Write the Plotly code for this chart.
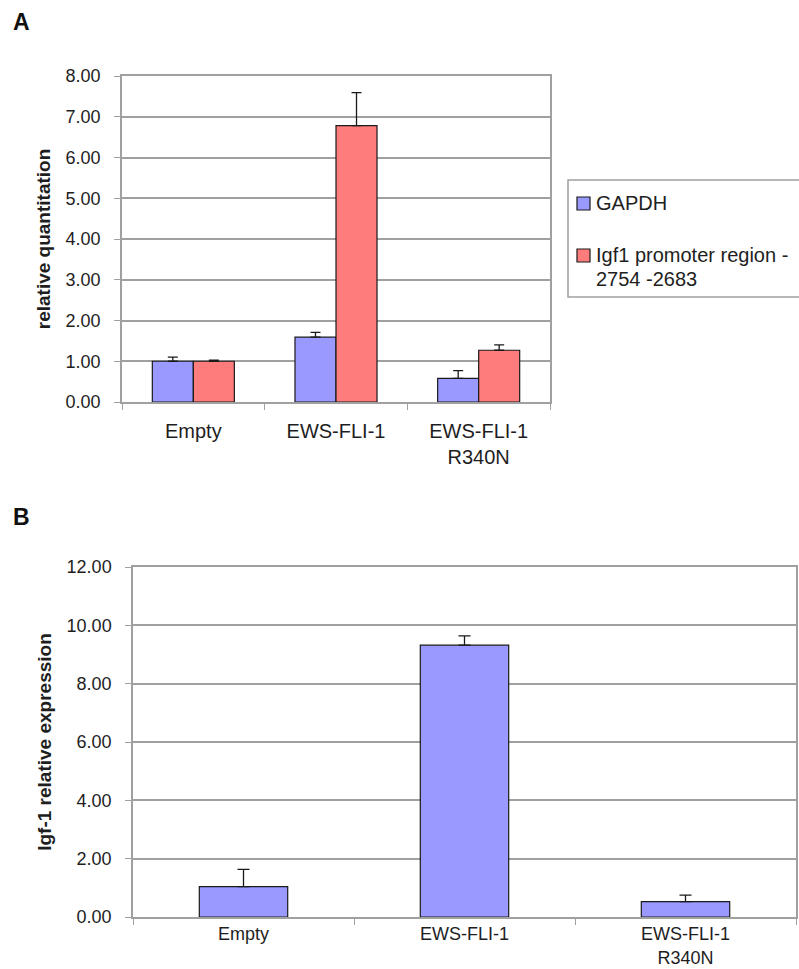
import plotly.graph_objects as go

W, H = 799, 969

categories = ["Empty", "EWS-FLI-1", "EWS-FLI-1<br>R340N"]

# Panel A
series_a_names = ["GAPDH", "Igf1 promoter region -", "2754 -2683"]
gapdh_vals = [1.00, 1.59, 0.58]
gapdh_err = [0.10, 0.12, 0.19]
igf1_vals = [1.00, 6.78, 1.27]
igf1_err = [0.03, 0.81, 0.13]
a_ticks = [0, 1, 2, 3, 4, 5, 6, 7, 8]
a_ticklabels = ["0.00", "1.00", "2.00", "3.00", "4.00", "5.00", "6.00", "7.00", "8.00"]

# Panel B
igf_expr_vals = [1.04, 9.32, 0.53]
igf_expr_err = [0.59, 0.32, 0.22]
b_ticks = [0, 2, 4, 6, 8, 10, 12]
b_ticklabels = ["0.00", "2.00", "4.00", "6.00", "8.00", "10.00", "12.00"]

BLUE = "#9999FF"
RED = "#FF7C7C"
GRID = "#A0A0A0"
TXT = "#1e1e1e"
FONT = "Arial, Liberation Sans, sans-serif"


def px_x(p):
    return p / W


def px_y(p):
    return 1 - p / H


fig = go.Figure()

err_style = dict(color="#1a1a1a", thickness=1.3, width=5)

fig.add_trace(go.Bar(
    x=categories, y=gapdh_vals, name="GAPDH", showlegend=False,
    marker=dict(color=BLUE, line=dict(color="#1a1a1a", width=1.2)),
    error_y=dict(type="data", array=gapdh_err, symmetric=False,
                 arrayminus=[0, 0, 0], **err_style),
    xaxis="x", yaxis="y",
))
fig.add_trace(go.Bar(
    x=categories, y=igf1_vals, name="Igf1 promoter region -2754 -2683", showlegend=False,
    marker=dict(color=RED, line=dict(color="#1a1a1a", width=1.2)),
    error_y=dict(type="data", array=igf1_err, symmetric=False,
                 arrayminus=[0, 0, 0], **err_style),
    xaxis="x", yaxis="y",
))
fig.add_trace(go.Bar(
    x=categories, y=igf_expr_vals, name="Igf-1", showlegend=False,
    marker=dict(color=BLUE, line=dict(color="#1a1a1a", width=1.2)),
    error_y=dict(type="data", array=igf_expr_err, symmetric=False,
                 arrayminus=[0, 0, 0], color="#1a1a1a", thickness=1.3, width=6),
    xaxis="x2", yaxis="y2", width=0.4,
))

ytick_font = dict(family=FONT, size=18, color=TXT)
xtick_font = dict(family=FONT, size=20, color=TXT)
xtick_font_b = dict(family=FONT, size=18, color=TXT)
title_font = dict(family=FONT, size=19, color=TXT)

line_common = dict(showline=True, mirror=True, linecolor=GRID, linewidth=1.5,
                   automargin=False)

# Manual legend (panel A)
shapes = [
    dict(type="rect", xref="paper", yref="paper",
         x0=px_x(568), x1=px_x(810), y0=px_y(297), y1=px_y(180),
         line=dict(color=GRID, width=1.5), fillcolor="white", layer="above"),
    dict(type="rect", xref="paper", yref="paper",
         x0=px_x(577), x1=px_x(590), y0=px_y(210), y1=px_y(197),
         line=dict(color="#1a1a1a", width=1.2), fillcolor=BLUE, layer="above"),
    dict(type="rect", xref="paper", yref="paper",
         x0=px_x(577), x1=px_x(590), y0=px_y(262), y1=px_y(249),
         line=dict(color="#1a1a1a", width=1.2), fillcolor=RED, layer="above"),
]

legend_font = dict(family=FONT, size=20, color=TXT)
annotations = [
    dict(text="<b>A</b>", x=px_x(11), y=px_y(7), xref="paper", yref="paper",
         xanchor="left", yanchor="top", showarrow=False,
         font=dict(family=FONT, size=23, color="#111")),
    dict(text="<b>B</b>", x=px_x(11), y=px_y(502), xref="paper", yref="paper",
         xanchor="left", yanchor="top", showarrow=False,
         font=dict(family=FONT, size=23, color="#111")),
    dict(text=series_a_names[0], x=px_x(594), y=px_y(203), xref="paper", yref="paper",
         xanchor="left", yanchor="middle", showarrow=False, font=legend_font),
    dict(text=series_a_names[1], x=px_x(594), y=px_y(255), xref="paper", yref="paper",
         xanchor="left", yanchor="middle", showarrow=False, font=legend_font),
    dict(text=series_a_names[2], x=px_x(594), y=px_y(279), xref="paper", yref="paper",
         xanchor="left", yanchor="middle", showarrow=False, font=legend_font),
]

fig.update_layout(
    width=W, height=H,
    margin=dict(l=0, r=0, t=0, b=0, autoexpand=False),
    paper_bgcolor="white", plot_bgcolor="white",
    barmode="group", bargap=0.425, bargroupgap=0,
    font=dict(family=FONT, color=TXT),
    showlegend=False,
    xaxis=dict(domain=[px_x(122), px_x(550)], anchor="y",
               ticks="outside", tickson="boundaries", ticklen=6, tickcolor=GRID,
               ticklabelstandoff=10, tickfont=xtick_font, **line_common),
    yaxis=dict(domain=[px_y(402), px_y(76)], anchor="x", range=[0, 8],
               tickvals=a_ticks, ticktext=a_ticklabels,
               ticks="outside", ticklen=6, tickcolor=GRID,
               ticklabelstandoff=10, tickfont=ytick_font,
               showgrid=True, gridcolor=GRID, gridwidth=1.5,
               title=dict(text="<b>relative quantitation</b>",
                          font=title_font, standoff=10),
               **line_common),
    xaxis2=dict(domain=[px_x(133), px_x(796)], anchor="y2",
                ticks="outside", tickson="boundaries", ticklen=6, tickcolor=GRID,
                ticklabelstandoff=0, tickfont=xtick_font_b, **line_common),
    yaxis2=dict(domain=[px_y(917), px_y(567)], anchor="x2", range=[0, 12],
                tickvals=b_ticks, ticktext=b_ticklabels,
                ticks="outside", ticklen=6, tickcolor=GRID,
                ticklabelstandoff=10, tickfont=ytick_font,
                showgrid=True, gridcolor=GRID, gridwidth=1.5,
                title=dict(text="<b>Igf-1 relative expression</b>",
                           font=title_font, standoff=10),
                **line_common),
    shapes=shapes,
    annotations=annotations,
)

fig.write_html("out.html")
